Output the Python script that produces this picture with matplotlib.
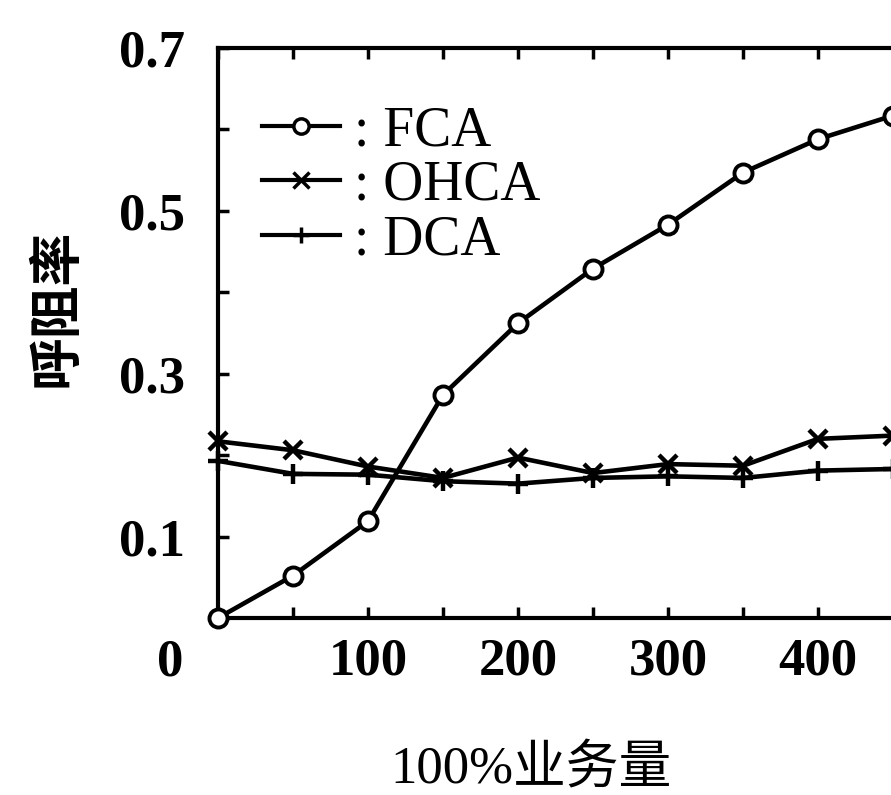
import matplotlib
matplotlib.use("Agg")
import matplotlib.pyplot as plt

plt.rcParams['font.family'] = ['Liberation Serif', 'Noto Sans CJK SC', 'DejaVu Sans']

# data
traffic = [0, 50, 100, 150, 200, 250, 300, 350, 400, 450]
fca = [0.0, 0.052, 0.119, 0.274, 0.362, 0.429, 0.483, 0.547, 0.588, 0.617]
ohca = [0.217, 0.206, 0.186, 0.172, 0.197, 0.178, 0.189, 0.187, 0.220, 0.224]
dca = [0.193, 0.177, 0.176, 0.168, 0.165, 0.172, 0.174, 0.172, 0.181, 0.183]
series_names = ["FCA", "OHCA", "DCA"]
x_ticks = [0, 50, 100, 150, 200, 250, 300, 350, 400, 450, 500]
x_tick_labels = ["", "", "100", "", "200", "", "300", "", "400", "", ""]
y_ticks = [0.0, 0.1, 0.2, 0.3, 0.4, 0.5, 0.6, 0.7]
y_tick_labels = ["", "0.1", "", "0.3", "", "0.5", "", "0.7"]
x_label = "100%业务量"
y_label = "呼阻率"

W, H = 891, 795
fig = plt.figure(figsize=(W / 100, H / 100), dpi=100)
left, right, top, bottom = 218, 968, 48, 618
ax = fig.add_axes([left / W, 1 - bottom / H, (right - left) / W, (bottom - top) / H])

lw = 3.3
ax.plot(traffic, fca, color='black', lw=lw, marker='o', ms=13, mfc='white',
        mec='black', mew=2.8, label=': ' + series_names[0], clip_on=False, zorder=3)
ax.plot(traffic, ohca, color='black', lw=lw, marker='x', ms=13,
        mew=3.2, label=': ' + series_names[1], clip_on=False, zorder=3)
ax.plot(traffic, dca, color='black', lw=lw, marker='+', ms=15,
        mew=3.2, label=': ' + series_names[2], clip_on=False, zorder=3)

ax.set_xlim(0, 500)
ax.set_ylim(0, 0.7)
ax.set_xticks(x_ticks)
ax.set_xticklabels(x_tick_labels)
ax.set_yticks(y_ticks)
ax.set_yticklabels(y_tick_labels)
ax.tick_params(direction='in', length=8, width=2.5, top=True, right=True,
               labelsize=38, pad=14)
ax.tick_params(axis='y', pad=24)
for lab in ax.get_xticklabels() + ax.get_yticklabels():
    lab.set_fontweight('bold')
for sp in ax.spines.values():
    sp.set_linewidth(3)

ax.annotate('0', xy=(0, 0), xycoords=('data', 'axes fraction'),
            xytext=(-48, -44), textcoords='offset pixels',
            ha='center', va='center', fontsize=38, fontweight='bold')

leg = ax.legend(loc='upper left', bbox_to_anchor=(262 / W, 1 - 105 / H),
                bbox_transform=fig.transFigure, frameon=False, fontsize=40,
                handlelength=1.4, handletextpad=0.25, labelspacing=0.05,
                borderpad=0, borderaxespad=0)
for h in leg.legend_handles:
    h.set_linewidth(3)
    h.set_markersize(11)
    h.set_markeredgewidth(2.5)

fig.text(56 / W, 1 - 308 / H, y_label, rotation=90, ha='center', va='center',
         fontsize=38, family=['Noto Sans CJK SC'], fontweight='bold')
fig.text(531 / W, 1 - 770 / H, x_label, ha='center', va='center', fontsize=38)

fig.savefig('out.png', dpi=100)
